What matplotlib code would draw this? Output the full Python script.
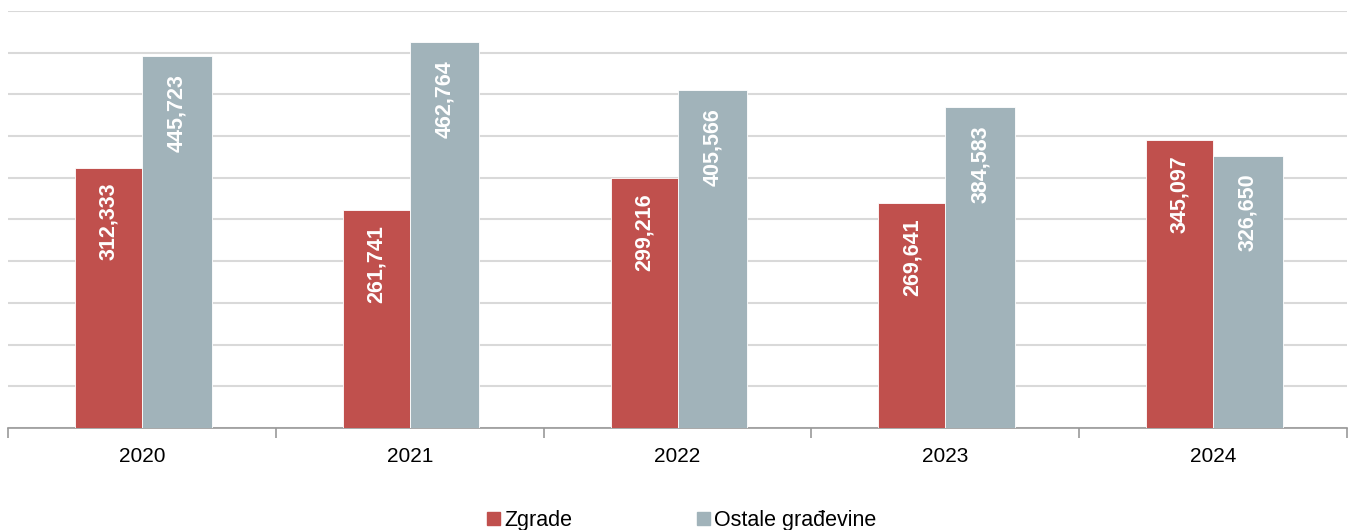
import matplotlib.pyplot as plt
import matplotlib.patches as mpatches
import numpy as np

plt.rcParams['font.family'] = ['Liberation Sans', 'DejaVu Sans']

years = ['2020', '2021', '2022', '2023', '2024']
zgrade = [312333, 261741, 299216, 269641, 345097]
ostale = [445723, 462764, 405566, 384583, 326650]

red = '#C0504D'
grey = '#A1B3BA'

fig = plt.figure(figsize=(13.5, 5.3), dpi=100)
ax = fig.add_axes([8 / 1350, 102 / 530, 1339 / 1350, 417 / 530])

x = np.arange(len(years))
w = 0.25
ax.bar(x - w / 2, zgrade, width=w, color=red, edgecolor='white', linewidth=0.6, zorder=3)
ax.bar(x + w / 2 + 0.005, ostale, width=w + 0.01, color=grey, edgecolor='white',
       linewidth=0.6, zorder=3)

for xi, v in zip(x - w / 2, zgrade):
    ax.annotate(f'{v:,}', (xi, v), xytext=(0, -11), textcoords='offset points',
                rotation=90, ha='center', va='top', color='white',
                fontsize=15.5, fontweight='bold', zorder=4)
for xi, v in zip(x + w / 2 + 0.005, ostale):
    ax.annotate(f'{v:,}', (xi, v), xytext=(0, -13), textcoords='offset points',
                rotation=90, ha='center', va='top', color='white',
                fontsize=15.5, fontweight='bold', zorder=4)

ax.set_xlim(-0.5, len(years) - 0.5)
ax.set_ylim(0, 500000)
ax.set_yticks(np.arange(0, 500001, 50000))
ax.yaxis.grid(True, color='#d9d9d9', linewidth=1.5, zorder=0)
ax.tick_params(axis='y', left=False, labelleft=False)

ax.set_xticks(x)
ax.set_xticklabels(years, fontsize=15)
ax.tick_params(axis='x', which='major', length=0, pad=14)
ax.set_xticks(np.arange(-0.5, len(years)), minor=True)
ax.tick_params(axis='x', which='minor', length=7, color='#999999', width=1.2)

for s in ['top', 'right', 'left']:
    ax.spines[s].set_visible(False)
ax.spines['bottom'].set_color('#999999')
ax.spines['bottom'].set_linewidth(1.2)

handles = [mpatches.Patch(color=red, label='Zgrade'),
           mpatches.Patch(color=grey, label='Ostale građevine')]
fig.legend(handles=handles, loc='center', bbox_to_anchor=(0.505, 0.018), ncol=2,
           frameon=False, fontsize=15.5, handlelength=0.6, handleheight=0.6,
           handletextpad=0.2, columnspacing=5.8)

fig.savefig('out.png')
